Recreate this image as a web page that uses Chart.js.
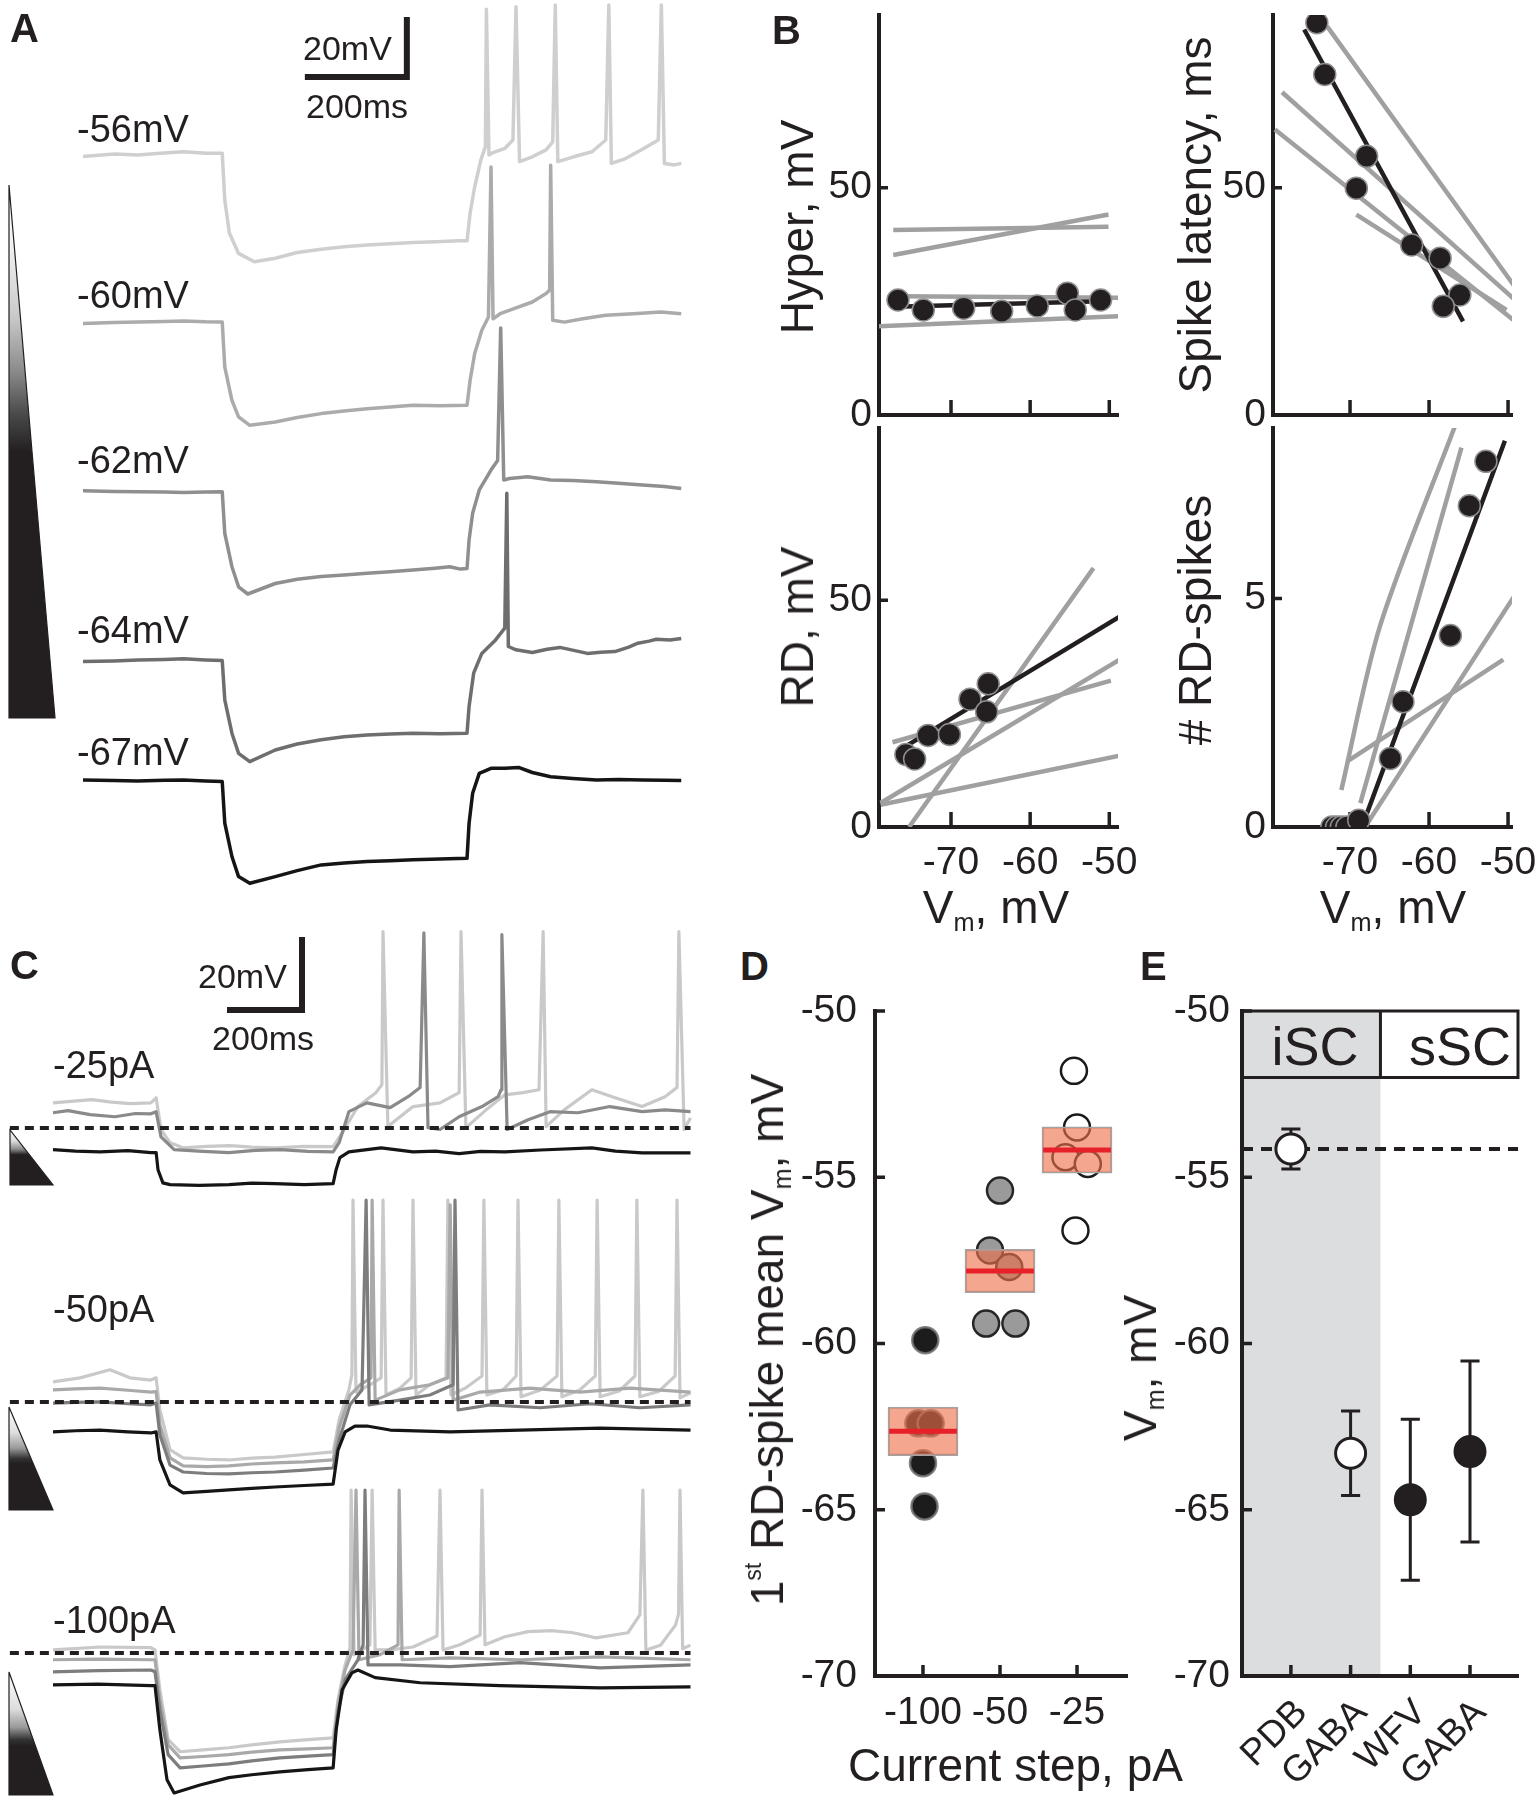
<!DOCTYPE html>
<html>
<head>
<meta charset="utf-8">
<title>Rebound depolarisation figure</title>
<script src="https://cdn.jsdelivr.net/npm/chart.js@4.4.1/dist/chart.umd.min.js"></script>
<style>
  body { margin: 0; background: #fff; }
  #fig { position: relative; width: 1536px; height: 1800px; overflow: hidden; background: #fff; }
  .t { position: absolute; z-index: 2; white-space: nowrap; line-height: 1; font-family: 'Liberation Sans', Arial, sans-serif; color: #231f20; }
  .r { transform: translate(-50%, -50%) rotate(-90deg); }
  .p { font-size: 40px; font-weight: bold; }
  .f37 { font-size: 37px; }
  .f38 { font-size: 38px; }
  .f34 { font-size: 34px; }
  .f46 { font-size: 46px; }
  .f54 { font-size: 54px; }
  .c { width: 300px; text-align: center; }
  sub { font-size: 55%; vertical-align: baseline; position: relative; top: 0.3em; }
  sup { font-size: 50%; vertical-align: baseline; position: relative; top: -0.95em; }
</style>
</head>
<body>
<div id="fig">
<svg width="1536" height="1800" style="position:absolute;left:0;top:0;z-index:0">
  <defs>
    <linearGradient id="gA" x1="0" y1="0" x2="0" y2="1">
      <stop offset="0" stop-color="#ffffff"/><stop offset="0.12" stop-color="#f0f0f0"/>
      <stop offset="0.25" stop-color="#c8c8c8"/><stop offset="0.35" stop-color="#8a8a8a"/>
      <stop offset="0.43" stop-color="#4a4a4a"/><stop offset="0.5" stop-color="#231f20"/>
      <stop offset="1" stop-color="#231f20"/>
    </linearGradient>
    <linearGradient id="gC1" x1="0" y1="0" x2="0" y2="1">
      <stop offset="0" stop-color="#ffffff"/><stop offset="0.2" stop-color="#dddddd"/>
      <stop offset="0.35" stop-color="#888888"/><stop offset="0.45" stop-color="#231f20"/>
      <stop offset="1" stop-color="#231f20"/>
    </linearGradient>
    <linearGradient id="gC2" x1="0" y1="0" x2="0" y2="1">
      <stop offset="0" stop-color="#ffffff"/><stop offset="0.25" stop-color="#dddddd"/>
      <stop offset="0.4" stop-color="#999999"/><stop offset="0.5" stop-color="#333333"/>
      <stop offset="0.55" stop-color="#231f20"/><stop offset="1" stop-color="#231f20"/>
    </linearGradient>
    <linearGradient id="gC3" x1="0" y1="0" x2="0" y2="1">
      <stop offset="0" stop-color="#ffffff"/><stop offset="0.3" stop-color="#dddddd"/>
      <stop offset="0.45" stop-color="#999999"/><stop offset="0.55" stop-color="#333333"/>
      <stop offset="0.6" stop-color="#231f20"/><stop offset="1" stop-color="#231f20"/>
    </linearGradient>
  </defs>
  <polygon points="9,185 9,718 55,718" fill="url(#gA)" stroke="#231f20" stroke-width="1.2"/>
  <polygon points="10,1130 10,1185 53,1185" fill="url(#gC1)" stroke="#231f20" stroke-width="1.2"/>
  <polygon points="9,1407 9,1510 53,1510" fill="url(#gC2)" stroke="#231f20" stroke-width="1.2"/>
  <polygon points="9,1672 9,1795 53,1795" fill="url(#gC3)" stroke="#231f20" stroke-width="1.2"/>
</svg>

<div class="t p" style="left:10px;top:8px">A</div>
<div class="t p" style="left:772px;top:10px">B</div>
<div class="t p" style="left:10px;top:945px">C</div>
<div class="t p" style="left:740px;top:946px">D</div>
<div class="t p" style="left:1140px;top:946px">E</div>

<div class="t f34" style="left:303px;top:31px">20mV</div>
<div class="t f34" style="left:306px;top:89px">200ms</div>
<div class="t f34" style="left:198px;top:959px">20mV</div>
<div class="t f34" style="left:212px;top:1021px">200ms</div>

<div class="t f46 r" style="left:797px;top:227px">Hyper, mV</div>
<div class="t f46 r" style="left:1195px;top:215px">Spike latency, ms</div>
<div class="t f46 r" style="left:797px;top:627px">RD, mV</div>
<div class="t f46 r" style="left:1195px;top:620px"># RD-spikes</div>
<div class="t f46 c" style="left:846px;top:884px">V<sub>m</sub>, mV</div>
<div class="t f46 c" style="left:1243px;top:884px">V<sub>m</sub>, mV</div>

<div class="t f46 r" style="left:767px;top:1340px">1<sup>st</sup> RD-spike mean V<sub>m</sub>, mV</div>
<div class="t f46 c" style="left:848px;top:1742px">Current step, pA</div>
<div class="t f46 r" style="left:1140px;top:1368px">V<sub>m</sub>, mV</div>
<div class="t f54 c" style="left:1165px;top:1019px">iSC</div>
<div class="t f54 c" style="left:1310px;top:1019px">sSC</div>
</div>

<script>
const INK = '#231f20';
Chart.defaults.font.family = "'Liberation Sans', Arial, sans-serif";
Chart.defaults.color = INK;

//#################################################### data A : [time ms, Vm mV]
const aRest = [-56, -60, -62, -64, -67];
const a56 = [[0,-56.5],[62,-55.7],[107,-56],[152,-55.4],[197,-54.9],[242,-55.4],[273,-55.4],[278,-71],[287,-82],[305,-88.8],[336,-91.6],[377,-90.4],[420,-88.5],[467,-87.4],[512,-86.6],[557,-86],[602,-85.6],[647,-85.2],[692,-84.9],[737,-84.6],[753,-84.6],[759,-75.4],[768,-66.6],[780,-57.7],[789,-53.2],[791,-7.4],[796,-56],[804,-55.2],[827,-53.8],[843,-51],[849,-6.6],[856,-58.2],[881,-56.6],[908,-54.3],[921,-51.6],[926,-6],[931,-58.2],[962,-56.6],[998,-54.9],[1025,-51],[1031,-6],[1036,-58.8],[1061,-57.4],[1097,-54.1],[1128,-51],[1134,-6],[1140,-58.8],[1160,-59.3],[1173,-58.8]];
const a60 = [[0,-60.2],[60,-59.8],[107,-59.7],[160,-59.5],[197,-59.3],[240,-59.6],[273,-59.7],[278,-74.7],[292,-85.8],[305,-91.3],[327,-94.1],[377,-93],[420,-91.5],[467,-90.2],[512,-89.3],[557,-88.6],[602,-88],[647,-87.4],[700,-87.6],[753,-87.4],[759,-79.1],[768,-70.2],[782,-62.4],[795,-58],[800,-8],[804,-58.6],[818,-56.9],[845,-55.2],[881,-53],[908,-50.2],[915,-49],[917,-7.4],[921,-59.1],[944,-59.7],[980,-58.6],[1025,-57.4],[1079,-56.9],[1133,-56.3],[1173,-56.9]];
const a62 = [[0,-61.7],[60,-61.9],[107,-62],[160,-62.1],[197,-62.3],[240,-62.1],[273,-62],[278,-75.9],[292,-87],[305,-93.7],[323,-96.1],[377,-92.6],[420,-91.2],[467,-90.3],[512,-89.8],[557,-89.2],[602,-88.7],[647,-88.1],[690,-87.5],[719,-87],[740,-87.8],[753,-87.6],[757,-78.1],[764,-69.2],[777,-61.4],[800,-54.8],[813,-51.6],[819,-7.4],[825,-58.1],[836,-57.6],[872,-57],[917,-58.1],[960,-58.3],[1007,-58.7],[1050,-59.2],[1097,-59.8],[1140,-60.3],[1173,-60.9]];
const a64 = [[0,-64.3],[60,-64.1],[107,-63.8],[160,-63.6],[197,-63.4],[240,-63.8],[273,-64],[278,-77.1],[292,-88.2],[305,-94.9],[327,-97.7],[377,-93.8],[420,-91.8],[467,-90.4],[512,-89.4],[557,-88.8],[602,-88.5],[647,-88.2],[700,-88.4],[753,-88.2],[757,-79.3],[766,-68.2],[782,-61.6],[809,-57.1],[827,-53.2],[831,-8.2],[834,-59.3],[849,-60.4],[881,-61.3],[910,-60.2],[935,-59.6],[960,-60.5],[989,-61.6],[1015,-61.2],[1043,-61],[1070,-59.5],[1088,-58.2],[1110,-57.5],[1124,-56.9],[1151,-57.1],[1173,-56.6]];
const a67 = [[0,-66.8],[60,-67],[107,-67.1],[160,-66.9],[197,-66.8],[240,-67.1],[273,-67.3],[278,-81.2],[292,-92.3],[305,-99],[327,-101.2],[377,-99],[420,-97],[467,-95.1],[512,-94.5],[557,-94],[602,-93.7],[647,-93.4],[700,-93.1],[753,-92.9],[757,-81.2],[764,-71.2],[777,-64.6],[800,-62.9],[827,-62.9],[854,-62.6],[881,-64.3],[917,-65.7],[960,-66.3],[1007,-66.8],[1050,-66.6],[1097,-66.8],[1140,-66.9],[1173,-67]];
const scaleMs = 200, scaleMv = 20;

//#################################################### data B : [Vm mV, value]
const bHypVm = [-76.7, -73.5, -68.4, -63.6, -59.1, -55.3, -54.3, -51.1];
const bHypVal = [25.3, 23.1, 23.5, 22.8, 24.0, 26.8, 23.1, 25.3];
const bHypFit = [[-77, 23.8], [-51, 25.0]];
const bHypOthers = [[[-77.3, 40.7], [-50.1, 41.4]], [[-77.3, 35.2], [-50.1, 44.1]], [[-76.6, 26.1], [-48.9, 25.8]], [[-79.1, 19.5], [-48.9, 21.7]]];

const bLatVm = [-74.2, -73.2, -67.9, -69.2, -62.2, -58.6, -56.1, -58.2];
const bLatVal = [86.3, 74.9, 56.9, 49.9, 37.4, 34.5, 26.4, 23.9];
const bLatFit = [[-75.8, 84.8], [-55.7, 20.6]];
const bLatOthers = [[[-72.9, 85.5], [-49.3, 28.6]], [[-78.6, 71.0], [-48.9, 25.0]], [[-79.5, 62.8], [-49.1, 20.6]], [[-69.2, 44.1], [-50.2, 23.1]]];

const bRdVm = [-75.7, -74.6, -72.9, -70.2, -67.6, -65.3, -65.5];
const bRdVal = [16.0, 15.0, 20.2, 20.4, 28.2, 31.6, 25.4];
const bRdFit = [[-76, 17.5], [-48.5, 46.6]];
const bRdOthers = [[[-77.4, 18.7], [-49.8, 32.3]], [[-75.3, 0], [-52, 57.1]], [[-78.9, 5.3], [-48.5, 37.1]], [[-78.9, 4.9], [-48.5, 15.8]]];

const bNVm = [-72.3, -71.7, -71.1, -70.4, -68.9, -64.9, -63.3, -57.3, -54.9, -52.8];
const bNVal = [0, 0, 0, 0, 0.15, 1.5, 2.74, 4.19, 7.03, 8.0];
const bNFit = [[-72.5, 0], [-68.5, 0], [-50.4, 8.45]];
const bNOthers = [[[-71.1, 0.81], [-66.2, 4.4], [-56.7, 8.78]], [[-68.7, 0.52], [-55.9, 8.3]], [[-70.4, 1.43], [-50.6, 3.66]], [[-68.1, 0], [-49.3, 5.03]]];

//#################################################### data C : [time ms, Vm mV]
const cSteps = [-25, -50, -100];
const c25Light = [[0,-47.3],[104,-46.4],[150,-47.0],[205,-47.5],[261,-47.3],[275,-45.9],[288,-54.6],[312,-58.2],[347,-59.6],[410,-59.2],[472,-59.0],[530,-59.4],[592,-59.6],[670,-59.2],[747,-59.3],[771,-55.5],[813,-48.3],[861,-44.5],[877,-42.3],[880,-0.4],[893,-53.8],[960,-48.3],[1032,-47.3],[1083,-44.5],[1088,-0.4],[1101,-54.1],[1155,-49.2],[1205,-45.1],[1253,-44.5],[1296,-43.7],[1307,-0.4],[1315,-53.8],[1363,-49.2],[1437,-43.7],[1499,-45.9],[1571,-48.3],[1632,-45.6],[1664,-43.1],[1669,-0.4],[1683,-54.6],[1700,-51.4]];
const c25Mid = [[0,-50.0],[40,-49.4],[99,-50.5],[165,-51.1],[220,-50.2],[261,-50.3],[275,-49.7],[288,-56.6],[323,-60.1],[400,-60.6],[469,-60.9],[540,-60.3],[605,-60.1],[680,-60.6],[747,-60.7],[763,-58.2],[789,-49.7],[837,-47.3],[899,-48.6],[947,-45.6],[979,-43.1],[989,-0.7],[1000,-54.1],[1032,-54.6],[1083,-51.1],[1144,-48.3],[1187,-45.6],[1195,-43.7],[1197,-1.2],[1211,-54.6],[1267,-51.9],[1325,-49.7],[1400,-50.0],[1485,-48.3],[1571,-49.7],[1632,-49.2],[1700,-49.7]];
const c25Black = [[0,-60.1],[60,-60.5],[125,-60.7],[200,-60.4],[261,-60.9],[275,-60.9],[280,-65.6],[293,-69.2],[312,-69.7],[390,-69.9],[469,-69.7],[530,-69.3],[592,-69.4],[670,-69.7],[747,-69.4],[755,-65.6],[765,-62.3],[789,-60.7],[875,-59.6],[960,-60.7],[1020,-60.5],[1083,-61.2],[1140,-60.6],[1205,-60.7],[1300,-60.2],[1437,-59.6],[1500,-60.5],[1571,-61.0],[1700,-61.0]];

const c50Light = [[0,-52.3],[72,-51.2],[152,-49.0],[205,-51.2],[261,-51.8],[275,-51.2],[285,-60.0],[312,-70.9],[347,-73.1],[410,-73.5],[469,-73.7],[530,-73.2],[592,-72.9],[670,-72.2],[747,-71.5],[763,-62.7],[789,-54.5],[797,-50.4],[800,-2.5],[808,-55.1],[845,-53.1],[875,-51.2],[880,-2.5],[888,-55.9],[925,-54.0],[955,-51.2],[960,-2.5],[968,-55.9],[1005,-53.1],[1048,-51.2],[1053,-2.5],[1061,-55.9],[1100,-54.0],[1144,-50.7],[1149,-2.5],[1157,-55.9],[1200,-54.5],[1235,-50.7],[1240,-2.5],[1248,-56.4],[1300,-54.5],[1344,-50.7],[1349,-2.5],[1357,-56.4],[1405,-54.5],[1446,-50.7],[1451,-2.5],[1459,-56.4],[1510,-54.8],[1552,-50.7],[1557,-2.5],[1565,-56.4],[1615,-54.9],[1659,-50.7],[1664,-2.5],[1672,-56.7],[1700,-55.3]];
const c50MidL = [[0,-54.5],[60,-54.2],[125,-54.0],[200,-54.6],[261,-55.1],[275,-55.0],[285,-64.1],[312,-73.1],[347,-75.3],[410,-75.5],[469,-75.3],[530,-74.8],[592,-74.5],[670,-74.2],[747,-73.7],[763,-64.9],[792,-55.9],[819,-53.1],[848,-51.2],[851,-2.5],[859,-57.3],[925,-54.5],[1005,-53.1],[1053,-51.2],[1059,-3.8],[1067,-57.3],[1139,-55.1],[1272,-54.0],[1405,-55.1],[1539,-54.0],[1700,-55.1]];
const c50MidD = [[0,-58.1],[60,-57.9],[125,-57.8],[200,-58.3],[261,-58.6],[275,-58.1],[285,-66.8],[312,-75.1],[347,-77.0],[410,-77.4],[469,-77.5],[530,-77.2],[592,-77.0],[670,-76.5],[747,-75.9],[763,-68.2],[792,-58.6],[824,-54.5],[835,-2.5],[843,-58.6],[925,-57.3],[1005,-55.9],[1067,-53.1],[1072,-2.5],[1080,-60.0],[1165,-58.6],[1299,-59.4],[1432,-58.3],[1565,-59.4],[1700,-58.6]];
const c50Black = [[0,-66.0],[60,-65.7],[125,-65.5],[200,-66.0],[261,-66.3],[275,-66.0],[285,-73.7],[312,-80.5],[347,-82.7],[410,-82.3],[469,-81.9],[530,-81.5],[592,-81.1],[670,-80.7],[747,-80.3],[760,-71.0],[779,-66.0],[805,-64.4],[837,-64.4],[899,-65.5],[1059,-66.0],[1245,-65.5],[1459,-65.0],[1700,-65.5]];

const c100Light = [[0,-61.8],[125,-61.0],[261,-61.2],[272,-61.8],[285,-72.7],[307,-86.4],[339,-89.7],[400,-89.2],[469,-88.6],[530,-87.8],[605,-87.0],[680,-86.4],[747,-85.9],[760,-75.5],[779,-65.9],[792,-61.2],[795,-18],[803,-63.1],[845,-60.4],[851,-18],[859,-61.8],[899,-61.8],[960,-61.0],[1024,-58.0],[1032,-18],[1040,-61.8],[1085,-60.4],[1139,-57.7],[1144,-18],[1152,-60.4],[1205,-58.2],[1267,-56.8],[1330,-56.5],[1387,-57.1],[1448,-58.5],[1533,-57.1],[1565,-52.2],[1573,-18],[1581,-61.8],[1620,-60.5],[1660,-55.0],[1668,-52.0],[1672,-18],[1679,-61.5],[1700,-60.5]];
const c100MidL = [[0,-64.5],[120,-64.3],[261,-64.5],[272,-64.5],[285,-75.5],[307,-87.8],[339,-91.4],[400,-91.0],[469,-90.5],[530,-89.8],[605,-89.2],[680,-88.9],[747,-88.6],[760,-76.8],[779,-67.3],[800,-61.8],[808,-18],[816,-64.5],[872,-63.1],[920,-60.4],[923,-18],[931,-64.5],[1059,-64.0],[1245,-64.5],[1459,-63.7],[1700,-64.5]];
const c100MidD = [[0,-67.8],[120,-67.5],[261,-67.3],[272,-67.8],[285,-78.2],[307,-90.5],[339,-94.1],[400,-93.6],[469,-93.0],[530,-92.2],[605,-91.4],[680,-90.9],[747,-90.5],[760,-78.8],[779,-70.0],[813,-64.5],[827,-60.4],[832,-18],[840,-65.9],[925,-65.9],[1059,-66.4],[1245,-65.3],[1459,-66.7],[1700,-65.9]];
const c100Black = [[0,-71.4],[120,-71.2],[261,-71.6],[272,-71.6],[285,-83.7],[304,-97.4],[323,-101.0],[392,-98.8],[469,-96.8],[530,-96.0],[605,-95.2],[680,-94.6],[747,-94.1],[755,-83.7],[771,-72.7],[797,-68.1],[813,-67.3],[859,-69.4],[979,-70.8],[1192,-71.6],[1459,-72.2],[1700,-71.9]];

//#################################################### data D
const dCats = ['-100', '-50', '-25'];
const dVm100 = [-59.9, -62.4, -62.4, -63.6, -64.9];
const dVm50 = [-55.4, -57.2, -57.7, -59.4, -59.4];
const dVm25 = [-51.8, -53.5, -54.4, -54.6, -56.6];
const dJit100 = [0.03, -0.06, 0.1, 0, 0.02];
const dJit50 = [0, -0.13, 0.12, -0.18, 0.2];
const dJit25 = [-0.04, 0, -0.15, 0.14, -0.02];
const dSem = [0.73, 0.65, 0.70];

//#################################################### data E
const eCats = ['PDB', 'GABA', 'WFV', 'GABA'];
const eMean = [-54.15, -63.3, -64.7, -63.25];
const eErr = [0.6, 1.27, 2.42, 2.72];

//#################################################### helpers
const fig = document.getElementById('fig');
const mean = a => a.reduce((s, v) => s + v, 0) / a.length;

function mkCanvas(l, t, w, h) {
  const c = document.createElement('canvas');
  c.width = w; c.height = h;
  c.style.cssText = 'position:absolute;z-index:1;left:' + l + 'px;top:' + t + 'px;width:' + w + 'px;height:' + h + 'px';
  fig.appendChild(c);
  return c;
}
function txt(html, cls, l, t) {
  const d = document.createElement('div');
  d.className = 't ' + cls;
  d.style.left = l + 'px'; d.style.top = t + 'px';
  d.innerHTML = html;
  fig.appendChild(d);
  return d;
}
function line(pts, color, width, extra) {
  return Object.assign({
    type: 'scatter', data: pts.map(p => ({ x: p[0], y: p[1] })), showLine: true, pointRadius: 0,
    borderColor: color, borderWidth: width, tension: 0, borderJoinStyle: 'round', fill: false
  }, extra || {});
}
const shift = (pts, off) => pts.map(p => [p[0], p[1] + off]);
function baseOpts() {
  return { animation: false, responsive: false, devicePixelRatio: 1, events: [],
    plugins: { legend: { display: false }, tooltip: { enabled: false } } };
}

// ticks pointing into the plot
const inTicks = {
  id: 'inTicks',
  beforeDatasetsDraw(chart, args, o) {
    const { ctx, chartArea: a, scales: { x, y } } = chart;
    ctx.save(); ctx.strokeStyle = INK; ctx.lineWidth = 3.5; ctx.beginPath();
    if (o.x) x.ticks.forEach(t => { const p = x.getPixelForValue(t.value); ctx.moveTo(p, a.bottom); ctx.lineTo(p, a.bottom - o.x); });
    if (o.y) y.ticks.forEach(t => { const p = y.getPixelForValue(t.value); ctx.moveTo(a.left, p); ctx.lineTo(a.left + o.y, p); });
    ctx.stroke(); ctx.restore();
  }
};
// grey iSC zone and header box of E
const eBands = {
  id: 'eBands',
  beforeDraw(chart, args, o) {
    const { ctx, chartArea: a, scales: { x } } = chart;
    const xs = x.getPixelForValue(o.split);
    ctx.save(); ctx.fillStyle = o.shade; ctx.fillRect(a.left, a.top, xs - a.left, a.bottom - a.top); ctx.restore();
  },
  afterDatasetsDraw(chart, args, o) {
    const { ctx, chartArea: a, scales: { x, y } } = chart;
    const xs = x.getPixelForValue(o.split), yb = y.getPixelForValue(o.band);
    ctx.save(); ctx.strokeStyle = INK; ctx.lineWidth = 3;
    ctx.strokeRect(a.left, a.top, a.right - a.left, yb - a.top);
    ctx.beginPath(); ctx.moveTo(xs, a.top); ctx.lineTo(xs, yb); ctx.stroke(); ctx.restore();
  }
};

function traceChart(l, t, w, h, xr, yr, datasets) {
  const o = baseOpts();
  o.layout = { padding: 0 };
  o.scales = { x: { type: 'linear', display: false, min: xr[0], max: xr[1] }, y: { type: 'linear', display: false, min: yr[0], max: yr[1] } };
  return new Chart(mkCanvas(l, t, w, h), { type: 'scatter', data: { datasets }, options: o });
}

function axisChart(area, g) {
  const pt = g.pt || 40, pr = g.pr || 40;
  const c = mkCanvas(area[0] - g.yw, area[1] - pt, area[2] - area[0] + g.yw + pr, area[3] - area[1] + pt + g.xh);
  const o = baseOpts();
  o.layout = { padding: { top: pt, right: pr, left: 0, bottom: 0 } };
  o.plugins.inTicks = g.ticks;
  if (g.bands) o.plugins.eBands = g.bands;
  const f = { size: 39 };
  o.scales = {
    x: { type: 'linear', offset: false, min: g.x[0], max: g.x[1],
      grid: { display: false, drawTicks: false, offset: false }, border: { display: true, color: INK, width: 4 },
      ticks: { display: g.xLabels !== false, font: f, color: INK, padding: g.xpad || 13, autoSkip: false,
        maxRotation: 0, minRotation: 0, callback: g.xcb || (v => String(v)) },
      afterBuildTicks: s => { s.ticks = g.xt.map(v => ({ value: v })); },
      afterFit: s => { s.height = g.xh; } },
    y: { type: 'linear', min: g.y[0], max: g.y[1], beginAtZero: false,
      grid: { display: false, drawTicks: false }, border: { display: true, color: INK, width: 4 },
      ticks: { font: f, color: INK, padding: g.ypad || 7, callback: v => String(v) },
      afterBuildTicks: s => { s.ticks = g.yt.map(v => ({ value: v })); },
      afterFit: s => { s.width = g.yw; } }
  };
  return new Chart(c, { type: 'scatter', data: { datasets: g.datasets }, options: o, plugins: g.plugins || [inTicks] });
}

//#################################################### panel A
const aTraces = [a56, a60, a62, a64, a67];
const aColors = ['#cfcfcf', '#ababab', '#8f8f8f', '#6e6e6e', '#151515'];
const aOffset = [4.33, -47.67, -101.9, -156.2, -193.2];
const aLabelTop = [110, 276, 441, 611, 733];
const aSets = aTraces.map((tr, i) => line(shift(tr, aOffset[i]), aColors[i], 3.5, { order: 10 - i }));
aSets.push(line([[435, -25.67], [435 + scaleMs, -25.67], [435 + scaleMs, -25.67 + scaleMv]], INK, 6, { borderJoinStyle: 'miter', order: 0 }));
traceChart(0, 0, 700, 900, [-162.75, 1209.8], [-300, 0], aSets);
aRest.forEach((v, i) => txt(v + 'mV', 'f38', 77, aLabelTop[i]));

//#################################################### panel B
function bSets(vm, val, fit, others, tensionFirst) {
  const s = [{ type: 'scatter', data: vm.map((v, i) => ({ x: v, y: val[i] })), pointRadius: 11,
    pointBackgroundColor: INK, pointBorderColor: '#8f8f8f', pointBorderWidth: 1.5, order: 1 }];
  s.push(line(fit, INK, 4.5, { order: 2 }));
  others.forEach((o, i) => s.push(line(o, '#a0a0a0', 4.5, { order: 3, tension: (tensionFirst && i === 0) ? 0.3 : 0 })));
  return s;
}
const bxL = [-79.1, -48.9], bxR = [-79.75, -49.5];
axisChart([879, 15, 1118, 415], { x: bxL, y: [0, 88], xt: [-70, -60, -50], yt: [0, 50], yw: 80, xh: 40, xLabels: false,
  ticks: { x: 15, y: 9 }, datasets: bSets(bHypVm, bHypVal, bHypFit, bHypOthers) });
axisChart([1273, 15, 1512, 415], { x: bxR, y: [0, 88], xt: [-70, -60, -50], yt: [0, 50], yw: 80, xh: 40, xLabels: false,
  ticks: { x: 15, y: 9 }, datasets: bSets(bLatVm, bLatVal, bLatFit, bLatOthers) });
axisChart([879, 428, 1118, 827], { x: bxL, y: [0, 88], xt: [-70, -60, -50], yt: [0, 50], yw: 80, xh: 70,
  ticks: { x: 15, y: 9 }, datasets: bSets(bRdVm, bRdVal, bRdFit, bRdOthers) });
axisChart([1273, 428, 1512, 827], { x: bxR, y: [0, 8.73], xt: [-70, -60, -50], yt: [0, 5], yw: 80, xh: 70,
  ticks: { x: 15, y: 9 }, datasets: bSets(bNVm, bNVal, bNFit, bNOthers, true) });

//#################################################### panel C
const dGroups = [dVm100, dVm50, dVm25];
const cLevel = [mean(dVm25), mean(dVm50), mean(dVm100)];   // dashed line = mean 1st RD-spike Vm (D)
const cDashY = [-54.25, -129.32, -198.08];
const cGroups = [[c25Light, c25Mid, c25Black], [c50Light, c50MidL, c50MidD, c50Black], [c100Light, c100MidL, c100MidD, c100Black]];
const cColors = [['#c9c9c9', '#8a8a8a', '#151515'], ['#c9c9c9', '#a9a9a9', '#7d7d7d', '#151515'], ['#c9c9c9', '#a9a9a9', '#7d7d7d', '#151515']];
const cLabelTop = [1046, 1290, 1601];
const cSets = [];
cGroups.forEach((grp, g) => {
  const off = cDashY[g] - cLevel[g];
  grp.forEach((tr, k) => cSets.push(line(shift(tr, off), cColors[g][k], 3.2, { order: 10 - k })));
  cSets.push(line([[-115, cLevel[g] + off], [1700, cLevel[g] + off]], INK, 4, { borderDash: [9, 6], order: 1 }));
  txt(cSteps[g] + 'pA', 'f38', 53, cLabelTop[g]);
});
cSets.push(line([[464, -21.9], [464 + scaleMs, -21.9], [464 + scaleMs, -21.9 + scaleMv]], INK, 6, { borderJoinStyle: 'miter', order: 0 }));
traceChart(0, 930, 700, 870, [-141.33, 1725.3], [-238.36, 0], cSets);

//#################################################### panel D
const dFill = ['#1c1c1c', '#9a9a9a', '#ffffff'];
const dEdge = ['rgba(110,110,110,0.85)', '#262626', '#1a1a1a'];
const dJit = [dJit100, dJit50, dJit25];
const dMeans = dGroups.map(mean);
const dSets = [];
dGroups.forEach((vals, g) => {
  dSets.push({ type: 'scatter', data: vals.map((v, k) => ({ x: g + dJit[g][k], y: v })), pointRadius: 13,
    pointBackgroundColor: dFill[g], pointBorderColor: dEdge[g], pointBorderWidth: 2.5, order: 3 });
  dSets.push(line([[g - 0.44, dMeans[g]], [g + 0.44, dMeans[g]]], '#e8202a', 5, { borderCapStyle: 'butt', order: 1 }));
});
dSets.push({ type: 'bar', data: dMeans.map((m, g) => ({ x: g, y: [m - dSem[g], m + dSem[g]] })),
  backgroundColor: 'rgba(238,112,74,0.62)', borderColor: '#a3a3a3', borderWidth: 1.5, borderSkipped: false,
  barThickness: 70, order: 2 });
axisChart([875, 1011, 1127, 1676], { x: [-0.623, 2.649], y: [-70, -50], xt: [0, 1, 2], yt: [-70, -65, -60, -55, -50],
  yw: 90, xh: 70, pt: 50, pr: 30, ypad: 18, xpad: 14, ticks: { x: 11, y: 10 }, xcb: v => dCats[v], datasets: dSets });

//#################################################### panel E
const exr = [-0.819, 3.804];
const eBars = [];
eMean.forEach((m, i) => {
  eBars.push({ x: i, y: m - eErr[i] }, { x: i, y: m + eErr[i] }, { x: i, y: null });
  eBars.push({ x: i - 0.16, y: m + eErr[i] }, { x: i + 0.16, y: m + eErr[i] }, { x: i, y: null });
  eBars.push({ x: i - 0.16, y: m - eErr[i] }, { x: i + 0.16, y: m - eErr[i] }, { x: i, y: null });
});
const eSets = [
  { type: 'scatter', data: eMean.map((m, i) => ({ x: i, y: m })), pointRadius: 15,
    pointBackgroundColor: eMean.map((m, i) => i < 2 ? '#ffffff' : INK), pointBorderColor: INK, pointBorderWidth: 3, order: 1 },
  { type: 'scatter', data: eBars, showLine: true, spanGaps: false, pointRadius: 0, borderColor: INK, borderWidth: 3, order: 2 },
  line([[exr[0], eMean[0]], [exr[1], eMean[0]]], INK, 4, { borderDash: [11, 8], order: 3 })
];
const eChart = axisChart([1242, 1011, 1530, 1676], { x: exr, y: [-70, -50], xt: [0, 1, 2, 3], yt: [-70, -65, -60, -55, -50],
  yw: 80, xh: 130, pt: 50, pr: 6, ypad: 12, xLabels: false, ticks: { x: 11, y: 10 },
  bands: { split: 1.5, band: -52, shade: '#dcdddf' }, plugins: [inTicks, eBands], datasets: eSets });

// slanted category names, text ending just right of each tick
const ex = eChart.scales.x;
eCats.forEach((name, i) => {
  const bx = eChart.canvas.offsetLeft + ex.getPixelForValue(i) + 18;
  const by = eChart.canvas.offsetTop + eChart.chartArea.bottom + 38;
  const d = txt(name, 'f37', 0, by - 31.3);
  d.style.left = 'auto';
  d.style.right = (1536 - bx) + 'px';
  d.style.transformOrigin = '100% 31.3px';
  d.style.transform = 'rotate(-45deg)';
});
</script>
</body>
</html>
